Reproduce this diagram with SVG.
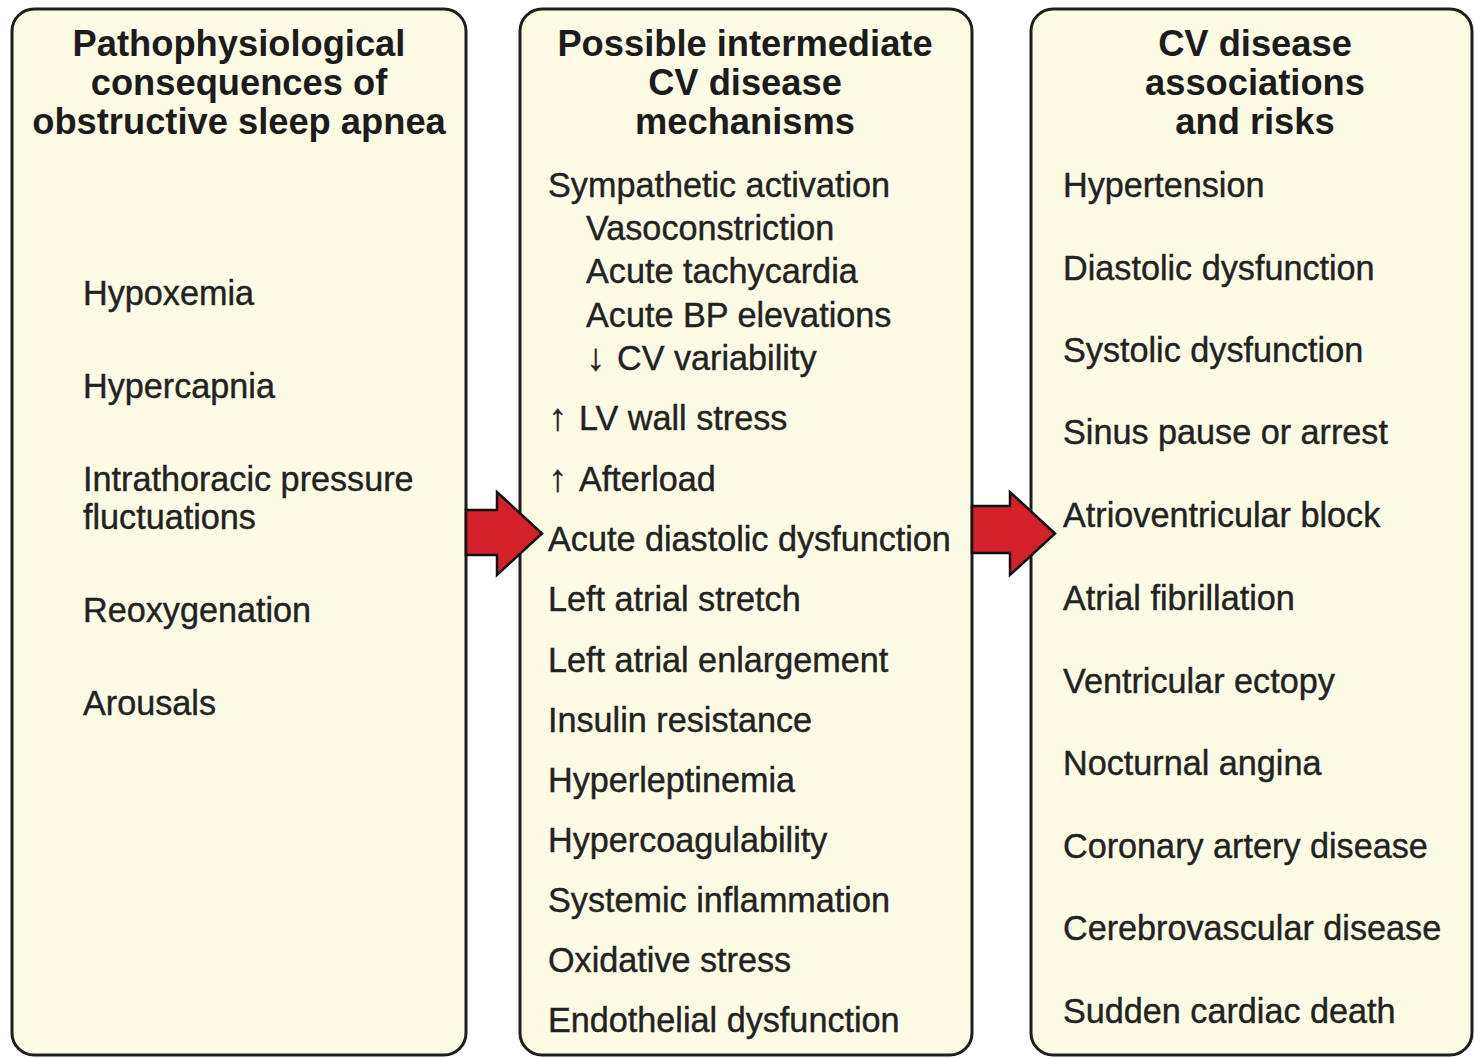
<svg xmlns="http://www.w3.org/2000/svg" width="1474" height="1058" viewBox="0 0 1474 1058">
<style>
.box{fill:#fcfbe4;stroke:#1e1e1e;stroke-width:3}
.t{font-family:"Liberation Sans",Arial,sans-serif;font-size:36.3px;font-weight:bold;fill:#1c1c1c;text-anchor:middle}
.b{font-family:"Liberation Sans",Arial,sans-serif;font-size:34.2px;fill:#222;stroke:#222;stroke-width:0.4}
.ar{font-size:38px}
.arr{fill:#d4202a;stroke:#111;stroke-width:2.5;stroke-linejoin:miter}
</style>
<rect width="1474" height="1058" fill="#ffffff"/>
<g id="left">
<rect class="box" x="12" y="9" width="454" height="1046" rx="22"/>
<text class="t" x="239" y="56">Pathophysiological</text>
<text class="t" x="239" y="95">consequences of</text>
<text class="t" x="239" y="134">obstructive sleep apnea</text>
<text class="b" x="83" y="305">Hypoxemia</text>
<text class="b" x="83" y="398">Hypercapnia</text>
<text class="b" x="83" y="491">Intrathoracic pressure</text>
<text class="b" x="83" y="529">fluctuations</text>
<text class="b" x="83" y="622">Reoxygenation</text>
<text class="b" x="83" y="715">Arousals</text>
</g>
<g id="middle">
<rect class="box" x="520" y="9" width="452" height="1046" rx="22"/>
<text class="t" x="745" y="56">Possible intermediate</text>
<text class="t" x="745" y="95">CV disease</text>
<text class="t" x="745" y="134">mechanisms</text>
<text class="b" x="548" y="197">Sympathetic activation</text>
<text class="b" x="586" y="240">Vasoconstriction</text>
<text class="b" x="586" y="283">Acute tachycardia</text>
<text class="b" x="586" y="327">Acute BP elevations</text>
<text class="b" x="586" y="370"><tspan class="ar">↓</tspan><tspan x="617">CV variability</tspan></text>
<text class="b" x="548" y="430"><tspan class="ar">↑</tspan><tspan x="579">LV wall stress</tspan></text>
<text class="b" x="548" y="491"><tspan class="ar">↑</tspan><tspan x="579">Afterload</tspan></text>
<text class="b" x="548" y="551">Acute diastolic dysfunction</text>
<text class="b" x="548" y="611">Left atrial stretch</text>
<text class="b" x="548" y="672">Left atrial enlargement</text>
<text class="b" x="548" y="732">Insulin resistance</text>
<text class="b" x="548" y="792">Hyperleptinemia</text>
<text class="b" x="548" y="852">Hypercoagulability</text>
<text class="b" x="548" y="912">Systemic inflammation</text>
<text class="b" x="548" y="972">Oxidative stress</text>
<text class="b" x="548" y="1032">Endothelial dysfunction</text>
</g>
<g id="right">
<rect class="box" x="1031" y="9" width="441" height="1046" rx="22"/>
<text class="t" x="1255" y="56">CV disease</text>
<text class="t" x="1255" y="95">associations</text>
<text class="t" x="1255" y="134">and risks</text>
<text class="b" x="1063" y="197">Hypertension</text>
<text class="b" x="1063" y="280">Diastolic dysfunction</text>
<text class="b" x="1063" y="362">Systolic dysfunction</text>
<text class="b" x="1063" y="444">Sinus pause or arrest</text>
<text class="b" x="1063" y="527">Atrioventricular block</text>
<text class="b" x="1063" y="610">Atrial fibrillation</text>
<text class="b" x="1063" y="693">Ventricular ectopy</text>
<text class="b" x="1063" y="775">Nocturnal angina</text>
<text class="b" x="1063" y="858">Coronary artery disease</text>
<text class="b" x="1063" y="940">Cerebrovascular disease</text>
<text class="b" x="1063" y="1023">Sudden cardiac death</text>
</g>
<g id="connectors">
<polygon class="arr" points="466,510 497,510 497,492 542,533.5 497,575 497,555 466,555"/>
<polygon class="arr" points="972,506 1010,506 1010,492 1055,533.5 1010,575 1010,553 972,553"/>
</g>
</svg>
